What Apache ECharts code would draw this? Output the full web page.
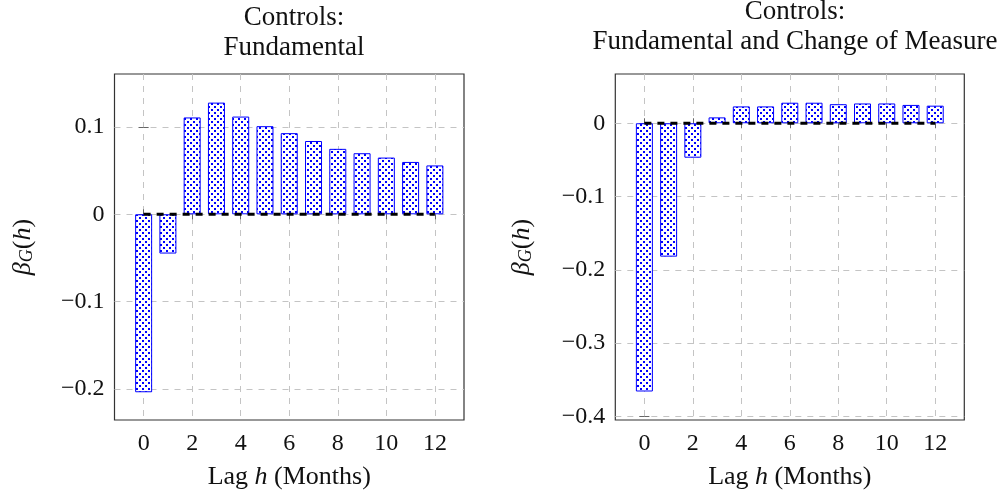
<!DOCTYPE html>
<html>
<head>
<meta charset="utf-8">
<script src="https://cdn.jsdelivr.net/npm/echarts@6/dist/echarts.min.js"></script>
<style>
html,body{margin:0;padding:0;background:#fff;}
#c{width:998px;height:495px;}
</style>
</head>
<body>
<div id="c"></div>
<script>
// ---- data ----
const lags = [0,1,2,3,4,5,6,7,8,9,10,11,12];
const fundamental = [-0.204,-0.045,0.111,0.128,0.112,0.101,0.093,0.084,0.075,0.070,0.065,0.060,0.056];
const fundChange = [-0.366,-0.182,-0.047,0.008,0.023,0.023,0.028,0.028,0.026,0.027,0.027,0.025,0.024];
const xTicks = [0,2,4,6,8,10,12];
const yTicksLeft = [-0.2,-0.1,0,0.1];
const yTicksRight = [-0.4,-0.3,-0.2,-0.1,0];
const titleLeft = 'Controls:\nFundamental';
const titleRight = 'Controls:\nFundamental and Change of Measure';

// ---- dot pattern ----
const pc = document.createElement('canvas');
pc.width = 6; pc.height = 6;
const pctx = pc.getContext('2d');
pctx.fillStyle = '#fff';
pctx.fillRect(0,0,6,6);
pctx.fillStyle = '#0000ff';
pctx.fillRect(1,1,2,2);
pctx.fillRect(4,4,2,2);
const dots = {image: pc, repeat: 'repeat'};

const FONT = '"Liberation Serif", "Times New Roman", serif';
const fmt = v => {
  if (Math.abs(v) < 1e-9) return '0';
  const s = (Math.round(v*10)/10).toString();
  return s.replace('-', '\u2212');
};
const grids = [
  {left:114.5, top:74, width:349.5, height:349},
  {left:615.3, top:74, width:349, height:349.3}
];
const yr = [[-0.2358,0.1608],[-0.4049,0.0672]];
const yt = [yTicksLeft, yTicksRight];
const gridStyle = {show:true, lineStyle:{color:'#c4c4c4', width:1, type:[6,6]}};
const tickStyle = {color:'#666', width:1};

const xAxis = [], yAxis = [], series = [];
[0,1].forEach(i => {
  xAxis.push({
    type:'value', gridIndex:i, min:-1.2, max:13.2,
    name:'{n|Lag }{it|h}{n| (Months)}', nameLocation:'middle', nameGap:44,
    nameTextStyle:{rich:{n:{fontFamily:FONT,fontSize:26,color:'#111'},it:{fontFamily:FONT,fontSize:26,fontStyle:'italic',color:'#111'}}},
    axisLine:{show:false},
    axisTick:{show:true, inside:true, length:5, lineStyle:tickStyle, customValues:xTicks},
    axisLabel:{fontFamily:FONT, fontSize:24, color:'#111', margin:12, customValues:xTicks, formatter:v=>String(v)},
    splitLine:gridStyle
  });
  xAxis.push({
    type:'value', gridIndex:i, min:-1.2, max:13.2, position:'top',
    axisLine:{show:false},
    axisTick:{show:true, inside:true, length:5, lineStyle:tickStyle, customValues:xTicks},
    axisLabel:{show:false}, splitLine:{show:false}
  });
  yAxis.push({
    type:'value', gridIndex:i, min:yr[i][0], max:yr[i][1],
    name:'{it|\u03b2}{sub|G}{n|(}{it|h}{n|)}', nameLocation:'middle', nameRotate:90, nameGap: i===0?78:80,
    nameTextStyle:{rich:{
      n:{fontFamily:FONT,fontSize:26,color:'#111'},
      it:{fontFamily:FONT,fontSize:26,fontStyle:'italic',color:'#111'},
      sub:{fontFamily:FONT,fontSize:18,fontStyle:'italic',color:'#111',verticalAlign:'bottom',lineHeight:22}
    }},
    axisLine:{show:false},
    axisTick:{show:true, inside:true, length:5, lineStyle:tickStyle, customValues:yt[i]},
    axisLabel:{fontFamily:FONT, fontSize:24, color:'#111', margin:10, customValues:yt[i], formatter:fmt},
    splitLine:gridStyle
  });
  yAxis.push({
    type:'value', gridIndex:i, min:yr[i][0], max:yr[i][1], position:'right',
    axisLine:{show:false},
    axisTick:{show:true, inside:true, length:5, lineStyle:tickStyle, customValues:yt[i]},
    axisLabel:{show:false}, splitLine:{show:false}
  });
  const vals = i===0 ? fundamental : fundChange;
  series.push({
    type:'bar', xAxisIndex:i*2, yAxisIndex:i*2, barWidth:17,
    data: lags.map((l,k)=>[l, vals[k]]),
    itemStyle:{color:dots, borderColor:'#0000ff', borderWidth:1},
    silent:true, z:2
  });
  series.push({
    type:'line', xAxisIndex:i*2, yAxisIndex:i*2, symbol:'none',
    data: lags.map(l=>[l,0]),
    lineStyle:{color:'#000', width:3, type:[7,6]},
    silent:true, z:5
  });
});

const chart = echarts.init(document.getElementById('c'), null, {renderer:'canvas'});
chart.setOption({
  animation:false,
  backgroundColor:'#fff',
  title:[
    {text:titleLeft, left:289, top:-2, textAlign:'center', textStyle:{fontFamily:FONT, fontSize:27, fontWeight:'normal', color:'#111', lineHeight:30}},
    {text:titleRight, left:790, top:-8, textAlign:'center', textStyle:{fontFamily:FONT, fontSize:27, fontWeight:'normal', color:'#111', lineHeight:30}}
  ],
  grid: grids.map(g=>Object.assign({show:true, borderColor:'#333', borderWidth:1.2, backgroundColor:'transparent'}, g)),
  xAxis, yAxis, series
});
</script>
</body>
</html>
